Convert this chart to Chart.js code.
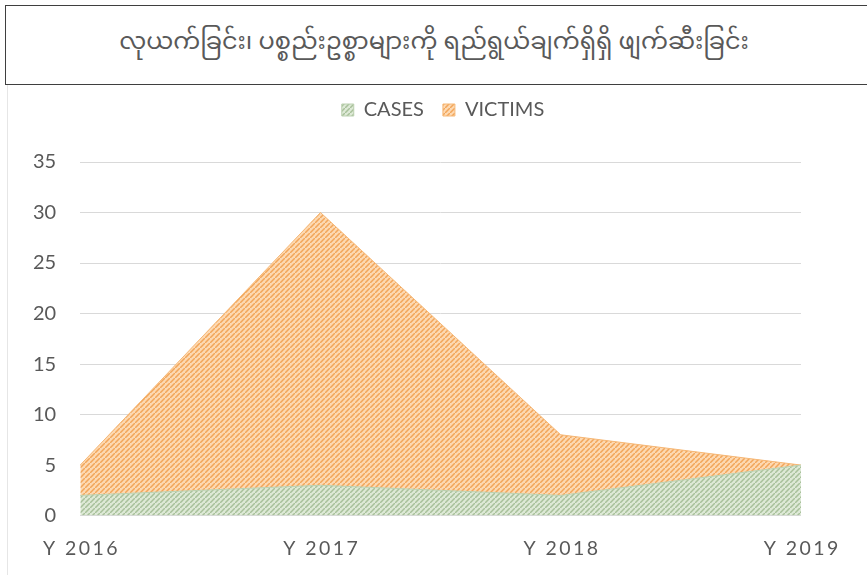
<!DOCTYPE html>
<html lang="my">
<head>
<meta charset="UTF-8">
<title>Cases and victims</title>
<script src="https://cdn.jsdelivr.net/npm/chart.js"></script>
<style>
  body { margin: 0; background: #fff; width: 867px; height: 575px; overflow: hidden; position: relative; }
  .title-box {
    position: absolute; left: 5px; top: 5px; width: 870px; height: 80px;
    border: 1px solid #3f3f3f; box-sizing: border-box;
    display: flex; align-items: center; justify-content: center;
    font-family: "Noto Sans Myanmar", "Noto Sans", "DejaVu Sans", sans-serif;
    font-size: 24px; color: #595959; padding-right: 12px; padding-bottom: 4px;
  }
  .edge { position: absolute; left: 7px; top: 85px; width: 1px; height: 490px; background: #e6e6e6; }
  .chart-wrap { position: absolute; left: 0; top: 88px; width: 867px; height: 487px; }
  canvas { display: block; }
</style>
</head>
<body>
<div class="title-box">လုယက်ခြင်း၊ ပစ္စည်းဥစ္စာများကို ရည်ရွယ်ချက်ရှိရှိ ဖျက်ဆီးခြင်း</div>
<div class="edge"></div>
<div class="chart-wrap"><canvas id="chart" width="867" height="487"></canvas></div>

<script>
  // data
  const years = ['Y 2016', 'Y 2017', 'Y 2018', 'Y 2019'];
  const cases = [2, 3, 2, 5];
  const victims = [3, 27, 6, 0];   // stacked on top of cases

  // diagonal hatch fill like the office chart
  function hatch(bg, line) {
    const n = 5;
    const c = document.createElement('canvas');
    c.width = n; c.height = n;
    const g = c.getContext('2d');
    g.fillStyle = bg;
    g.fillRect(0, 0, n, n);
    g.strokeStyle = line;
    g.lineWidth = 1.5;
    g.beginPath();
    g.moveTo(-1, n + 1); g.lineTo(n + 1, -1);
    g.moveTo(-n - 1, 1); g.lineTo(1, -n - 1);
    g.moveTo(n - 1, 2 * n + 1); g.lineTo(2 * n + 1, n - 1);
    g.stroke();
    return g.createPattern(c, 'repeat');
  }
  const ctx = document.getElementById('chart').getContext('2d');
  const greenFill = hatch('#dde9d6', '#a8c09a');
  const orangeFill = hatch('#fdd9b2', '#f2a65a');

  // extra room under the legend, and legend sits a bit right of centre
  const legendTweak = {
    id: 'legendTweak',
    beforeInit(chart) {
      const fit = chart.legend.fit;
      chart.legend.fit = function () {
        fit.bind(chart.legend)();
        this.height += 32;
      };
    },
    afterLayout(chart) {
      chart.legend.left += 38;
      chart.legend.right += 38;
    }
  };

  const spaced = s => s.split('').join('\u2009');
  const font = 'Lato, "Open Sans", sans-serif';

  new Chart(ctx, {
    type: 'line',
    data: {
      labels: years,
      datasets: [
        { label: 'CASES', data: cases, backgroundColor: greenFill, borderColor: '#bcd1b1', borderWidth: 1, fill: 'origin', pointRadius: 0, tension: 0 },
        { label: 'VICTIMS', data: victims, backgroundColor: orangeFill, borderColor: '#f6b877', borderWidth: 1, fill: '-1', pointRadius: 0, tension: 0 }
      ]
    },
    options: {
      responsive: false,
      animation: false,
      layout: { padding: { left: 9, right: 66, top: -7, bottom: -6 } },
      plugins: {
        legend: {
          position: 'top',
          labels: {
            boxWidth: 12, boxHeight: 12, padding: 19,
            color: '#595959',
            font: { family: font, size: 20 }
          }
        },
        tooltip: { enabled: false }
      },
      scales: {
        x: {
          offset: false,
          grid: { display: false, drawTicks: false },
          border: { display: false },
          ticks: {
            color: '#595959', padding: 21, maxRotation: 0,
            font: { family: font, size: 19.5 },
            callback: function (v) { return spaced(this.getLabelForValue(v)); }
          }
        },
        y: {
          stacked: true,
          min: 0, max: 35,
          grid: { color: '#d9d9d9', drawTicks: false },
          border: { display: false },
          ticks: { stepSize: 5, color: '#595959', padding: 24, font: { family: font, size: 20 } }
        }
      }
    },
    plugins: [legendTweak]
  });
</script>
</body>
</html>
